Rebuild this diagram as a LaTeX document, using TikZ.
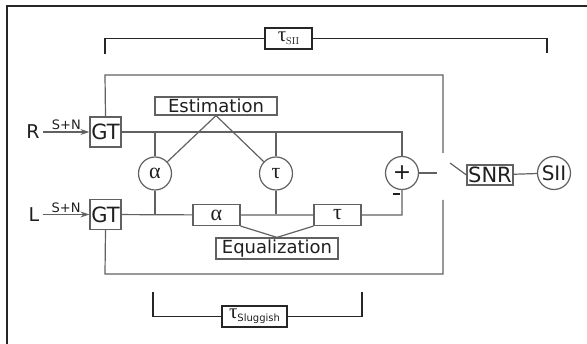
\documentclass[tikz,border=0pt]{standalone}
\usepackage{fontspec}
\newfontfamily\vsf{DejaVu Sans}
\newfontfamily\grk{Liberation Serif}
\usetikzlibrary{arrows.meta}

\colorlet{ln}{black!62}
\colorlet{tx}{black!88}

\begin{document}
\begin{tikzpicture}[x=1pt,y=-1pt,line width=1.2pt,color=ln,
  box/.style={draw=ln,inner sep=0pt,text=tx},
  gt/.style={box,minimum width=31pt,minimum height=30pt,font=\vsf\fontsize{21}{24}\selectfont},
  rnd/.style={circle,draw=ln,inner sep=0pt,minimum size=33pt,text=tx},
  lbl/.style={text=tx,inner sep=3pt,font=\vsf\fontsize{19}{21}\selectfont},
  sn/.style={text=tx,inner sep=1.5pt,font=\vsf\fontsize{13}{14}\selectfont},
  brk/.style={draw=black!85,line width=1.5pt},
  gr/.style={font=\grk\fontsize{22}{24}\selectfont}]

\useasboundingbox (0,0) rectangle (587,344);

% outer frame
\draw[black!85,line width=2pt] (7,350) -- (7,6) -- (595,6);

% ear inputs
\node[gt] (gtR) at (105.5,132) {GT};
\node[gt] (gtL) at (105.5,214.5) {GT};
\node[lbl] (inR) at (33,132) {R};
\node[lbl] (inL) at (34,214.5) {L};
\draw[-{Stealth[length=9pt,width=6pt]}] (inR) -- node[above,sn] {S+N} (gtR);
\draw[-{Stealth[length=9pt,width=6pt]}] (inL) -- node[above,sn] {S+N} (gtL);

% estimation
\node[box,minimum width=122pt,minimum height=18pt,font=\vsf\fontsize{18}{20}\selectfont] (est) at (216,106) {Estimation};
\node[rnd,gr] (ca) at (155,173.5) {α};
\node[rnd,gr] (ct) at (276,173.5) {τ};
\draw (est.south) -- (ca);
\draw (est.south) -- (ct);

% equalization
\node[box,gr,minimum width=47pt,minimum height=21pt] (ea) at (216.5,215) {α};
\node[box,gr,minimum width=47pt,minimum height=21pt] (et) at (337.5,215) {τ};
\node[box,minimum width=122pt,minimum height=21pt,font=\vsf\fontsize{18}{20}\selectfont] (eq) at (277,248.5) {Equalization};
\draw (ea.south east) -- (eq.north) -- (et.south west);

% summation and output
\node[rnd,font=\vsf\fontsize{22}{24}\selectfont] (plus) at (402,173) {+};
\node[text=tx,inner sep=0pt] (minus) at (396.5,194) {\rule{7pt}{2.2pt}};
\node[box,minimum width=46pt,minimum height=20pt,font=\vsf\fontsize{21}{22}\selectfont] (snr) at (490,175) {SNR};
\node[rnd,font=\vsf\fontsize{20}{22}\selectfont] (sii) at (554,173) {SII};
\coordinate (sw0) at (437,173);
\coordinate (sw1) at (450,163);

% signal paths
\draw (gtR) -| (plus);
\draw (gtL) -- (ea) -- (et) -| (plus);
\draw (ca.north) -- (ca.north |- gtR.east);
\draw (ct.north) -- (ct.north |- gtR.east);
\draw (ca.south) -- (ca.south |- gtL.east);
\draw (ct.south) -- (ct.south |- gtL.east);
\draw (plus) -- (sw0);
\draw (sw1) -- (snr.west);
\draw (snr) -- (sii);

% feedback loops
\draw (gtR.north) -- (105,75) -- (443,75) -- (443,153);
\draw (gtL.south) -- (105,274) -- (443,274) -- (443,200);

% time constants
\node[box,draw=black!85,line width=1.5pt,minimum width=47pt,minimum height=21pt] (tsii) at (288.5,38.5)
  {{\grk\fontsize{21}{22}\selectfont τ}\raisebox{-3pt}{\fontsize{10}{10}\selectfont SII}};
\node[box,draw=black!85,line width=1.5pt,minimum width=65pt,minimum height=21pt] (tsl) at (254.5,316.5)
  {{\grk\fontsize{21}{22}\selectfont τ}\raisebox{-3pt}{\vsf\fontsize{10}{10}\selectfont Sluggish}};
\draw[brk] (tsii.west) -- (105,38.5) -- (105,54);
\draw[brk] (tsii.east) -- (547,38.5) -- (547,53);
\draw[brk] (tsl.west) -- (153,316.5) -- (153,292);
\draw[brk] (tsl.east) -- (362,316.5) -- (362,292);

\end{tikzpicture}
\end{document}
